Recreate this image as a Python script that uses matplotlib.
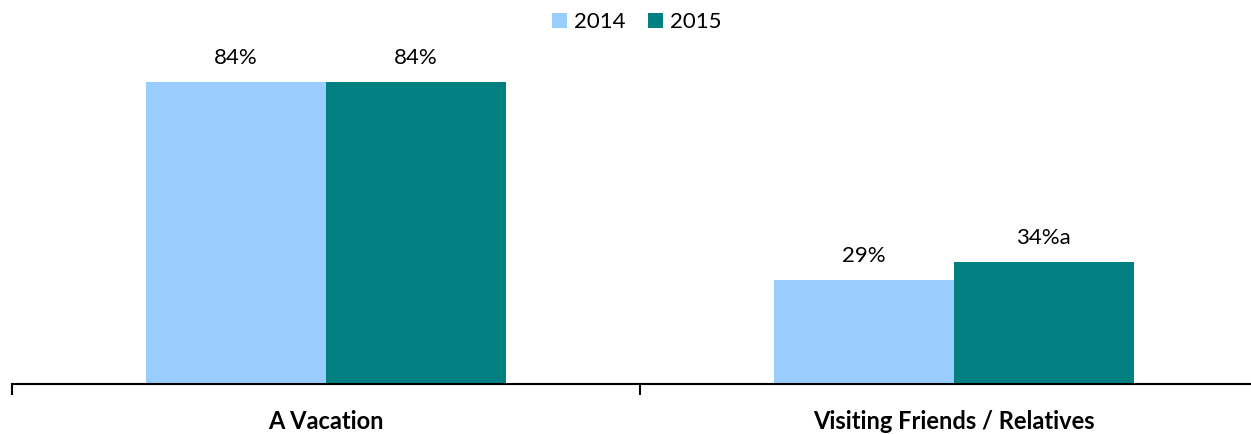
import numpy as np
import matplotlib.pyplot as plt

plt.rcParams['font.family'] = ['Lato', 'DejaVu Sans']

categories = ['A Vacation', 'Visiting Friends / Relatives']
years = ['2014', '2015']
values_2014 = [84, 29]
values_2015 = [84, 34]
labels_2014 = ['84%', '29%']
labels_2015 = ['84%', '34%a']

colors = ['#99CCFF', '#008080']

fig = plt.figure(figsize=(12.51, 4.34), dpi=100)
ax = fig.add_axes([12/1251, 50/434, 1256/1251, 360/434])

x = np.arange(len(categories))
w = 0.286

b1 = ax.bar(x - w/2, values_2014, w, color=colors[0], label=years[0])
b2 = ax.bar(x + w/2, values_2015, w, color=colors[1], label=years[1])

for bars, labs in [(b1, labels_2014), (b2, labels_2015)]:
    for b, lab in zip(bars, labs):
        ax.annotate(lab, (b.get_x() + b.get_width()/2, b.get_height()),
                    xytext=(0, 10), textcoords='offset points',
                    ha='center', va='bottom', fontsize=16, color='#000000')

ax.set_xlim(-0.5, 1.5)
ax.set_ylim(0, 100)
ax.set_yticks([])
for s in ['top', 'right', 'left']:
    ax.spines[s].set_visible(False)
ax.spines['bottom'].set_linewidth(1.5)

ax.set_xticks([-0.5, 0.5, 1.5])
ax.set_xticklabels([])
ax.tick_params(axis='x', length=8, width=1.5, direction='out')
ax.set_xticks(x, minor=True)
ax.set_xticklabels(categories, minor=True, fontsize=17, fontweight='bold')
ax.tick_params(axis='x', which='minor', length=0, pad=19)

fig.legend(loc='upper center', bbox_to_anchor=(0.509, 1.018), ncol=2, frameon=False,
           fontsize=16, handlelength=0.7, handleheight=0.7, handletextpad=0.3,
           columnspacing=1.0)

fig.savefig('out.png', dpi=100)
